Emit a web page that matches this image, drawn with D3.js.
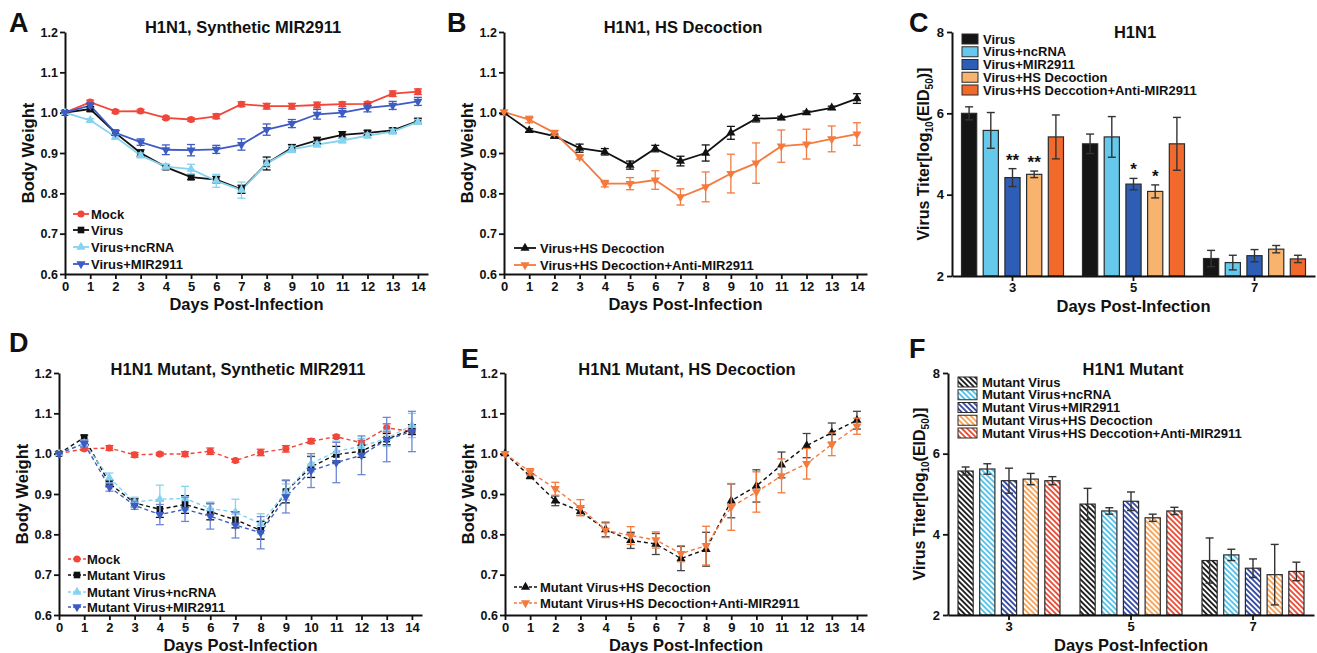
<!DOCTYPE html>
<html>
<head>
<meta charset="utf-8">
<script src="https://cdn.jsdelivr.net/npm/d3@7"></script>
<style>
  body { margin: 0; background: #fff; }
  text { font-family: "Liberation Sans", Arial, sans-serif; font-weight: bold; fill: #111; }
</style>
</head>
<body>
<svg id="fig" width="1317" height="653"></svg>
<script>
// ---- data ----
var days = [0, 1, 2, 3, 4, 5, 6, 7, 8, 9, 10, 11, 12, 13, 14];
var bwTicks = [0.6, 0.7, 0.8, 0.9, 1.0, 1.1, 1.2];
var titerTicks = [2, 4, 6, 8];
var barDays = ["3", "5", "7"];

// A: H1N1, synthetic MIR2911
var aMock = [1.0, 1.026, 1.003, 1.004, 0.987, 0.983, 0.991, 1.021, 1.016, 1.016, 1.019, 1.021, 1.022, 1.047, 1.052];
var aMockErr = [0, 0.005, 0.004, 0.004, 0.004, 0.004, 0.006, 0.006, 0.007, 0.007, 0.007, 0.006, 0.005, 0.007, 0.007];
var aVirus = [1.0, 1.009, 0.95, 0.9, 0.865, 0.84, 0.834, 0.81, 0.874, 0.913, 0.931, 0.945, 0.95, 0.956, 0.979];
var aVirusErr = [0, 0.006, 0.006, 0.008, 0.006, 0.006, 0.008, 0.01, 0.016, 0.008, 0.008, 0.008, 0.006, 0.006, 0.007];
var aNc = [1.0, 0.981, 0.94, 0.894, 0.866, 0.86, 0.831, 0.808, 0.874, 0.909, 0.921, 0.931, 0.943, 0.953, 0.977];
var aNcErr = [0, 0.004, 0.006, 0.006, 0.006, 0.012, 0.016, 0.02, 0.01, 0.008, 0.006, 0.006, 0.006, 0.006, 0.006];
var aMir = [1.0, 1.018, 0.95, 0.927, 0.908, 0.907, 0.909, 0.921, 0.958, 0.973, 0.996, 1.0, 1.012, 1.018, 1.028];
var aMirErr = [0, 0.006, 0.006, 0.008, 0.012, 0.014, 0.01, 0.014, 0.014, 0.01, 0.012, 0.01, 0.01, 0.01, 0.01];

// B: H1N1, HS decoction
var bHs = [1.0, 0.956, 0.942, 0.912, 0.903, 0.87, 0.911, 0.88, 0.9, 0.95, 0.985, 0.987, 1.0, 1.012, 1.035];
var bHsErr = [0, 0.004, 0.005, 0.01, 0.008, 0.01, 0.008, 0.012, 0.02, 0.016, 0.008, 0.004, 0.004, 0.004, 0.012];
var bAnti = [1.002, 0.983, 0.95, 0.89, 0.824, 0.824, 0.833, 0.791, 0.816, 0.849, 0.875, 0.917, 0.922, 0.935, 0.947];
var bAntiErr = [0, 0.008, 0.006, 0.005, 0.008, 0.015, 0.023, 0.02, 0.037, 0.048, 0.05, 0.04, 0.037, 0.032, 0.028];

// D: H1N1 mutant, synthetic MIR2911
var dMock = [1.0, 1.012, 1.014, 0.997, 0.999, 0.999, 1.006, 0.983, 1.003, 1.012, 1.031, 1.042, 1.027, 1.064, 1.055];
var dMockErr = [0, 0.004, 0.006, 0.006, 0.004, 0.006, 0.008, 0.004, 0.008, 0.008, 0.006, 0.004, 0.006, 0.01, 0.008];
var dVirus = [1.0, 1.04, 0.926, 0.878, 0.862, 0.874, 0.856, 0.836, 0.81, 0.906, 0.967, 0.998, 1.006, 1.036, 1.06];
var dVirusErr = [0, 0.006, 0.008, 0.01, 0.02, 0.022, 0.02, 0.02, 0.022, 0.028, 0.026, 0.02, 0.015, 0.014, 0.012];
var dNc = [1.0, 1.026, 0.94, 0.88, 0.887, 0.889, 0.864, 0.855, 0.826, 0.905, 0.975, 1.006, 1.018, 1.038, 1.07];
var dNcErr = [0, 0.008, 0.012, 0.012, 0.035, 0.03, 0.016, 0.032, 0.025, 0.02, 0.02, 0.025, 0.02, 0.02, 0.03];
var dMir = [1.0, 1.025, 0.917, 0.872, 0.849, 0.862, 0.845, 0.823, 0.804, 0.893, 0.958, 0.978, 0.996, 1.035, 1.055];
var dMirErr = [0, 0.008, 0.01, 0.01, 0.025, 0.03, 0.032, 0.032, 0.04, 0.04, 0.042, 0.05, 0.048, 0.055, 0.05];

// E: H1N1 mutant, HS decoction
var eHs = [1.0, 0.944, 0.883, 0.857, 0.812, 0.785, 0.776, 0.74, 0.763, 0.883, 0.92, 0.972, 1.02, 1.052, 1.083];
var eHsErr = [0, 0.006, 0.012, 0.01, 0.018, 0.02, 0.026, 0.03, 0.042, 0.042, 0.04, 0.032, 0.03, 0.024, 0.022];
var eAnti = [1.0, 0.955, 0.913, 0.866, 0.81, 0.797, 0.786, 0.752, 0.772, 0.868, 0.905, 0.945, 0.975, 1.023, 1.068];
var eAntiErr = [0, 0.008, 0.016, 0.02, 0.018, 0.022, 0.02, 0.02, 0.048, 0.058, 0.05, 0.042, 0.038, 0.028, 0.02];

// C: H1N1 virus titer
var cVirus = [6.0, 5.25, 2.43], cVirusErr = [0.16, 0.24, 0.2];
var cNc = [5.58, 5.42, 2.33], cNcErr = [0.44, 0.5, 0.18];
var cMir = [4.42, 4.26, 2.5], cMirErr = [0.22, 0.14, 0.15];
var cHs = [4.5, 4.08, 2.66], cHsErr = [0.08, 0.16, 0.09];
var cAnti = [5.42, 5.25, 2.42], cAntiErr = [0.54, 0.65, 0.09];
var cMirStars = ["**", "*", ""];
var cHsStars = ["**", "*", ""];

// F: H1N1 mutant virus titer
var fVirus = [5.57, 4.75, 3.35], fVirusErr = [0.1, 0.39, 0.56];
var fNc = [5.62, 4.58, 3.49], fNcErr = [0.13, 0.08, 0.14];
var fMir = [5.33, 4.82, 3.16], fMirErr = [0.31, 0.23, 0.23];
var fHs = [5.37, 4.41, 3.0], fHsErr = [0.14, 0.09, 0.75];
var fAnti = [5.33, 4.58, 3.08], fAntiErr = [0.1, 0.09, 0.23];

var svg = d3.select("#fig");
var defs = svg.append("defs");

function styleAxis(sel, fs) {
  sel.attr("font-family", null).attr("font-size", fs).attr("font-weight", "bold");
  sel.select(".domain").attr("stroke", "#111").attr("stroke-width", 2);
  sel.selectAll(".tick line").attr("stroke", "#111").attr("stroke-width", 1.8);
}

// marker shapes
var shapes = {
  circle: d3.symbol().type(d3.symbolCircle).size(40),
  square: d3.symbol().type(d3.symbolSquare).size(44),
  tri: d3.symbol().type(d3.symbolTriangle).size(36),
  down: d3.symbol().type(d3.symbolTriangle).size(36)
};

function drawMarker(g, shape, cx, cy, color) {
  g.append("path")
    .attr("d", shapes[shape]())
    .attr("transform", "translate(" + cx + "," + cy + ")" + (shape == "down" ? " rotate(180)" : ""))
    .attr("fill", color);
}

function panelText(cfg) {
  svg.append("text").attr("x", cfg.letterX).attr("y", cfg.letterY)
    .attr("font-size", 27).text(cfg.letter);
  svg.append("text").attr("x", cfg.titleX).attr("y", cfg.titleY)
    .attr("text-anchor", "middle").attr("font-size", 16.5).text(cfg.title);
}

function lineChart(cfg) {
  var g = svg.append("g");
  var x = d3.scaleLinear().domain([0, 14.4]).range([cfg.left, cfg.right]);
  var y = d3.scaleLinear().domain([0.6, 1.2]).range([cfg.bottom, cfg.top]);

  g.append("g").attr("transform", "translate(0," + cfg.bottom + ")")
    .call(d3.axisBottom(x).tickValues(days).tickSize(5).tickPadding(3).tickSizeOuter(0))
    .call(styleAxis, 13);
  g.append("g").attr("transform", "translate(" + cfg.left + ",0)")
    .call(d3.axisLeft(y).tickValues(bwTicks).tickFormat(d3.format(".1f")).tickSize(5).tickPadding(2).tickSizeOuter(0))
    .call(styleAxis, 12.5);

  var line = d3.line().x(function(d, i) { return x(days[i]); }).y(function(d) { return y(d); });

  cfg.series.forEach(function(s) {
    g.append("path").datum(s.values)
      .attr("d", line).attr("fill", "none")
      .attr("stroke", s.color).attr("stroke-width", cfg.dashed ? 1.4 : 1.8)
      .attr("stroke-dasharray", cfg.dashed ? "4,3" : null);
  });
  cfg.series.forEach(function(s) {
    var eg = g.append("g").attr("stroke", s.errColor || s.color).attr("stroke-width", 1.3);
    s.values.forEach(function(v, i) {
      var e = s.err[i];
      if (!e) return;
      var cx = x(days[i]);
      eg.append("line").attr("x1", cx).attr("x2", cx).attr("y1", y(v - e)).attr("y2", y(v + e));
      eg.append("line").attr("x1", cx - 4).attr("x2", cx + 4).attr("y1", y(v - e)).attr("y2", y(v - e));
      eg.append("line").attr("x1", cx - 4).attr("x2", cx + 4).attr("y1", y(v + e)).attr("y2", y(v + e));
    });
    s.values.forEach(function(v, i) {
      drawMarker(g, s.shape, x(days[i]), y(v), s.color);
    });
  });

  // legend
  var L = cfg.legend;
  cfg.series.forEach(function(s, i) {
    var ly = L.y[i];
    g.append("line").attr("x1", L.x1).attr("x2", L.x2).attr("y1", ly).attr("y2", ly)
      .attr("stroke", s.color).attr("stroke-width", cfg.dashed ? 1.4 : 1.8)
      .attr("stroke-dasharray", cfg.dashed ? "3,2" : null);
    drawMarker(g, s.shape, (L.x1 + L.x2) / 2, ly, s.color);
    g.append("text").attr("x", L.tx).attr("y", ly).attr("dy", "0.35em")
      .attr("font-size", 13).text(s.name);
  });

  g.append("text").attr("x", (x(0) + x(14)) / 2 + 5).attr("y", cfg.bottom + 36)
    .attr("text-anchor", "middle").attr("font-size", 16.5).text("Days Post-Infection");
  g.append("text").attr("transform", "translate(" + (cfg.left - 37) + "," + ((cfg.top + cfg.bottom) / 2) + ") rotate(-90)")
    .attr("text-anchor", "middle").attr("dy", "0.35em").attr("font-size", 16.5).text("Body Weight");
  panelText(cfg);
}

function hatch(id, color) {
  var p = defs.append("pattern").attr("id", id)
    .attr("patternUnits", "userSpaceOnUse").attr("width", 3.8).attr("height", 3.8)
    .attr("patternTransform", "rotate(-45)");
  p.append("rect").attr("width", 3.8).attr("height", 3.8).attr("fill", "#fff");
  p.append("rect").attr("width", 1.9).attr("height", 3.8).attr("fill", color);
  return "url(#" + id + ")";
}

function barChart(cfg) {
  var g = svg.append("g");
  var x0 = d3.scaleBand().domain(barDays).range([cfg.left, cfg.right]);
  var x1 = d3.scaleBand().domain(cfg.series.map(function(s) { return s.name; })).range([-51, 51]).paddingInner(0.3);
  var y = d3.scaleLinear().domain([2, 8]).range([cfg.bottom, cfg.top]);

  cfg.series.forEach(function(s) {
    var sg = g.append("g");
    function bx(i) { return x0(barDays[i]) + x0.bandwidth() / 2 + x1(s.name); }
    sg.selectAll("rect").data(s.values).join("rect")
      .attr("x", function(d, i) { return bx(i); })
      .attr("y", function(d) { return y(d); })
      .attr("width", x1.bandwidth())
      .attr("height", function(d) { return y(2) - y(d); })
      .attr("fill", s.fill).attr("stroke", "#2b2b2b").attr("stroke-width", 1.2);
    var w = x1.bandwidth();
    s.values.forEach(function(v, i) {
      var e = s.err[i], cx = bx(i) + w / 2;
      var eg = sg.append("g").attr("stroke", "#333").attr("stroke-width", 1.4);
      eg.append("line").attr("x1", cx).attr("x2", cx).attr("y1", y(v - e)).attr("y2", y(v + e));
      eg.append("line").attr("x1", cx - 4).attr("x2", cx + 4).attr("y1", y(v + e)).attr("y2", y(v + e));
      eg.append("line").attr("x1", cx - 4).attr("x2", cx + 4).attr("y1", y(v - e)).attr("y2", y(v - e));
      if (s.stars && s.stars[i]) {
        sg.append("text").attr("x", cx).attr("y", y(v + e) - 3)
          .attr("text-anchor", "middle").attr("font-size", 17).text(s.stars[i]);
      }
    });
  });

  g.append("g").attr("transform", "translate(0," + cfg.bottom + ")")
    .call(d3.axisBottom(x0).tickSize(5).tickPadding(2).tickSizeOuter(0))
    .call(styleAxis, 13);
  g.append("g").attr("transform", "translate(" + cfg.left + ",0)")
    .call(d3.axisLeft(y).tickValues(titerTicks).tickFormat(d3.format("d")).tickSize(5).tickPadding(3).tickSizeOuter(0))
    .call(styleAxis, 13);

  var L = cfg.legend;
  cfg.series.forEach(function(s, i) {
    var ly = L.y + i * 12.75;
    g.append("rect").attr("x", L.x).attr("y", ly - 5).attr("width", L.w).attr("height", 10)
      .attr("fill", s.fill).attr("stroke", "#2b2b2b").attr("stroke-width", 1);
    g.append("text").attr("x", L.x + L.w + 5).attr("y", ly).attr("dy", "0.35em")
      .attr("font-size", 13).text(s.name);
  });

  g.append("text").attr("x", x0("5") + x0.bandwidth() / 2).attr("y", cfg.bottom + 36)
    .attr("text-anchor", "middle").attr("font-size", 16.5).text("Days Post-Infection");
  var yl = g.append("text")
    .attr("transform", "translate(" + (cfg.left - 29) + "," + ((cfg.top + cfg.bottom) / 2) + ") rotate(-90)")
    .attr("text-anchor", "middle").attr("dy", "0.35em").attr("font-size", 16);
  yl.append("tspan").text("Virus Titer[log");
  yl.append("tspan").attr("font-size", 10).attr("dy", 4).text("10");
  yl.append("tspan").attr("dy", -4).text("(EID");
  yl.append("tspan").attr("font-size", 10).attr("dy", 4).text("50");
  yl.append("tspan").attr("dy", -4).text(")]");
  panelText(cfg);
}

var RED = "#f1463a", BLACK = "#111", CYAN = "#86d3ef", BLUE = "#3d5bc4", ORANGE = "#f47a3e";

lineChart({
  left: 65, right: 428, top: 32, bottom: 274,
  letter: "A", letterX: 9, letterY: 32, title: "H1N1, Synthetic MIR2911", titleX: 243, titleY: 33,
  dashed: false,
  legend: { x1: 73, x2: 89, tx: 91, y: [214, 230, 247, 264] },
  series: [
    { name: "Mock", values: aMock, err: aMockErr, color: RED, shape: "circle" },
    { name: "Virus", values: aVirus, err: aVirusErr, color: BLACK, shape: "square" },
    { name: "Virus+ncRNA", values: aNc, err: aNcErr, color: CYAN, shape: "tri" },
    { name: "Virus+MIR2911", values: aMir, err: aMirErr, color: BLUE, shape: "down" }
  ]
});

lineChart({
  left: 504, right: 867, top: 32, bottom: 274,
  letter: "B", letterX: 447, letterY: 32, title: "H1N1, HS Decoction", titleX: 683, titleY: 33,
  dashed: false,
  legend: { x1: 514, x2: 536, tx: 540, y: [248, 265] },
  series: [
    { name: "Virus+HS Decoction", values: bHs, err: bHsErr, color: BLACK, shape: "tri" },
    { name: "Virus+HS Decoction+Anti-MIR2911", values: bAnti, err: bAntiErr, color: ORANGE, shape: "down" }
  ]
});

lineChart({
  left: 59, right: 422, top: 373, bottom: 615,
  letter: "D", letterX: 9, letterY: 352, title: "H1N1 Mutant, Synthetic MIR2911", titleX: 238, titleY: 375,
  dashed: true,
  legend: { x1: 68, x2: 86, tx: 87, y: [559, 575, 592, 607] },
  series: [
    { name: "Mock", values: dMock, err: dMockErr, color: RED, shape: "circle" },
    { name: "Mutant Virus", values: dVirus, err: dVirusErr, color: BLACK, shape: "square" },
    { name: "Mutant Virus+ncRNA", values: dNc, err: dNcErr, color: CYAN, shape: "tri" },
    { name: "Mutant Virus+MIR2911", values: dMir, err: dMirErr, color: BLUE, errColor: "#6f86d6", shape: "down" }
  ]
});

lineChart({
  left: 505, right: 867, top: 373, bottom: 615,
  letter: "E", letterX: 461, letterY: 368, title: "H1N1 Mutant, HS Decoction", titleX: 687, titleY: 375,
  dashed: true,
  legend: { x1: 514, x2: 537, tx: 540, y: [587, 603] },
  series: [
    { name: "Mutant Virus+HS Decoction", values: eHs, err: eHsErr, color: BLACK, errColor: "#444", shape: "tri" },
    { name: "Mutant Virus+HS Decoction+Anti-MIR2911", values: eAnti, err: eAntiErr, color: ORANGE, shape: "down" }
  ]
});

barChart({
  left: 952, right: 1315, top: 32, bottom: 276,
  letter: "C", letterX: 909, letterY: 32, title: "H1N1", titleX: 1135, titleY: 38,
  legend: { x: 962, w: 16, y: 39 },
  series: [
    { name: "Virus", values: cVirus, err: cVirusErr, fill: "#151515" },
    { name: "Virus+ncRNA", values: cNc, err: cNcErr, fill: "#66c8ea" },
    { name: "Virus+MIR2911", values: cMir, err: cMirErr, fill: "#2e5db6", stars: cMirStars },
    { name: "Virus+HS Decoction", values: cHs, err: cHsErr, fill: "#f8b46e", stars: cHsStars },
    { name: "Virus+HS Deccotion+Anti-MIR2911", values: cAnti, err: cAntiErr, fill: "#f26a2b" }
  ]
});

barChart({
  left: 948, right: 1314, top: 373, bottom: 615,
  letter: "F", letterX: 909, letterY: 358, title: "H1N1 Mutant", titleX: 1133, titleY: 375,
  legend: { x: 958, w: 19, y: 382 },
  series: [
    { name: "Mutant Virus", values: fVirus, err: fVirusErr, fill: hatch("hk", "#222") },
    { name: "Mutant Virus+ncRNA", values: fNc, err: fNcErr, fill: hatch("hc", "#55c3ea") },
    { name: "Mutant Virus+MIR2911", values: fMir, err: fMirErr, fill: hatch("hb", "#3a4ea6") },
    { name: "Mutant Virus+HS Decoction", values: fHs, err: fHsErr, fill: hatch("ho", "#f6a65d") },
    { name: "Mutant Virus+HS Deccotion+Anti-MIR2911", values: fAnti, err: fAntiErr, fill: hatch("hr", "#e9523c") }
  ]
});
</script>
</body>
</html>
